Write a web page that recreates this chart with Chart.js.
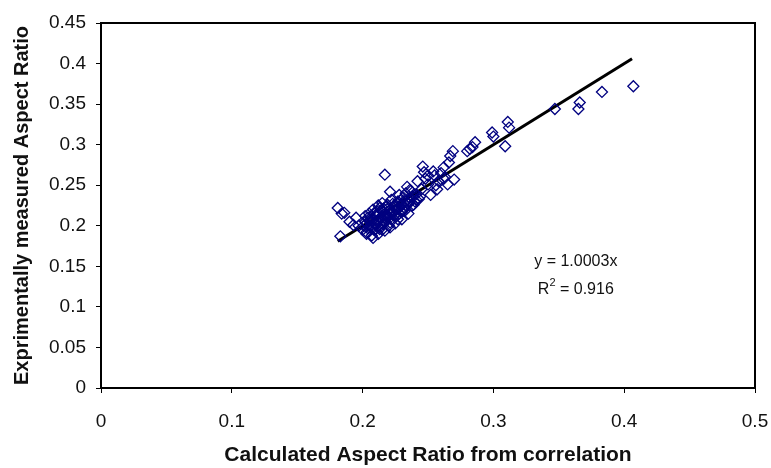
<!DOCTYPE html>
<html>
<head>
<meta charset="utf-8">
<script src="https://cdn.jsdelivr.net/npm/chart.js@4/dist/chart.umd.min.js"></script>
<style>
html,body{margin:0;padding:0;background:#fff;}
#wrap{width:771px;height:468px;}
</style>
</head>
<body>
<div id="wrap"><canvas id="c" width="771" height="468"></canvas></div>
<script>
// Calculated aspect ratio (x) and measured aspect ratio (y)
const calcX = [
  0.181,0.184,0.183,0.186,0.190,0.193,0.195,0.197,0.217,0.221,0.221,0.208,
  0.200,0.201,0.202,0.203,0.204,0.205,0.205,0.206,0.207,0.208,0.208,0.209,
  0.210,0.210,0.211,0.212,0.212,0.213,0.214,0.215,0.215,0.216,0.217,0.218,
  0.219,0.220,0.220,0.221,0.222,0.223,0.224,0.225,0.226,0.227,0.228,0.229,
  0.230,0.231,0.232,0.233,0.234,0.235,0.236,0.237,0.238,0.239,0.240,0.234,
  0.239,0.244,0.242,0.246,0.247,0.250,0.252,0.254,0.257,0.262,0.265,0.266,
  0.267,0.269,0.270,0.245,0.248,0.255,0.258,0.260,0.263,0.280,0.282,0.284,
  0.286,0.299,0.300,0.309,0.311,0.312,0.347,0.365,0.366,0.383,0.407,0.241,
  0.236,0.228,0.232,0.215,0.203,0.210,0.226,0.250,0.256,0.262,
  0.202,0.204,0.206,0.207,0.209,0.211,0.213,0.214,0.216,0.218,0.219,0.221,
  0.223,0.225,0.227,0.229,0.231,0.233,0.205,0.212,0.217,0.222,0.228,0.235,
  0.203,0.206,0.209,0.211,0.214,0.216,0.219,0.222,0.224,0.227,0.230,0.233,
  0.236,0.238,0.241,0.243,0.212,0.218,0.224,0.230
];
const measY = [
  0.222,0.215,0.187,0.216,0.205,0.201,0.210,0.200,0.263,0.242,0.198,0.185,
  0.195,0.200,0.205,0.192,0.210,0.198,0.215,0.203,0.188,0.220,0.208,0.195,
  0.213,0.202,0.218,0.190,0.207,0.222,0.200,0.212,0.195,0.217,0.205,0.223,
  0.210,0.200,0.215,0.220,0.208,0.227,0.213,0.203,0.220,0.230,0.215,0.225,
  0.208,0.235,0.222,0.240,0.228,0.215,0.235,0.243,0.225,0.238,0.230,0.248,
  0.226,0.236,0.255,0.273,0.266,0.251,0.238,0.267,0.245,0.272,0.251,0.278,
  0.286,0.292,0.257,0.245,0.258,0.262,0.255,0.265,0.260,0.292,0.295,0.297,
  0.303,0.315,0.310,0.298,0.328,0.321,0.344,0.344,0.352,0.365,0.372,0.232,
  0.244,0.238,0.218,0.228,0.190,0.196,0.212,0.262,0.250,0.258,
  0.212,0.197,0.210,0.198,0.216,0.206,0.196,0.219,0.202,0.214,0.226,0.204,
  0.217,0.226,0.208,0.231,0.219,0.230,0.206,0.225,0.194,0.232,0.222,0.227,
  0.203,0.207,0.202,0.213,0.209,0.221,0.212,0.216,0.224,0.221,0.227,0.225,
  0.230,0.236,0.239,0.233,0.200,0.209,0.219,0.217
];
// Linear trend line y = 1.0003x, drawn between its end points
const trendX = [0.181, 0.406];
const trendY = [0.181, 0.406];
const xTicks = [0, 0.1, 0.2, 0.3, 0.4, 0.5];
const yTicks = [0, 0.05, 0.1, 0.15, 0.2, 0.25, 0.3, 0.35, 0.4, 0.45];
const eqLine1 = 'y = 1.0003x';
const eqR2 = '0.916';

const pts = calcX.map((x, i) => ({x: x, y: measY[i]}));
const trend = trendX.map((x, i) => ({x: x, y: trendY[i]}));

const FONT = "'Liberation Sans', Arial, sans-serif";

const boxPlugin = {
  id: 'box',
  afterDraw(chart) {
    const {ctx, chartArea: a, scales} = chart;
    ctx.save();
    ctx.strokeStyle = '#000';
    ctx.lineWidth = 2;
    ctx.strokeRect(a.left, a.top, a.right - a.left, a.bottom - a.top);
    // equation text
    ctx.fillStyle = '#111';
    ctx.font = '16px ' + FONT;
    ctx.textBaseline = 'middle';
    const cx = scales.x.getPixelForValue(0.363);
    const y1 = scales.y.getPixelForValue(0.156);
    const y2 = scales.y.getPixelForValue(0.121);
    ctx.textAlign = 'center';
    ctx.fillText(eqLine1, cx, y1);
    // R² line with superscript
    const part1 = 'R', part3 = ' = ' + eqR2;
    const w1 = ctx.measureText(part1).width;
    const w3 = ctx.measureText(part3).width;
    ctx.font = '11px ' + FONT;
    const w2 = ctx.measureText('2').width;
    const total = w1 + w2 + w3;
    let sx = cx - total / 2;
    ctx.textAlign = 'left';
    ctx.font = '16px ' + FONT;
    ctx.fillText(part1, sx, y2);
    ctx.font = '11px ' + FONT;
    ctx.fillText('2', sx + w1, y2 - 7);
    ctx.font = '16px ' + FONT;
    ctx.fillText(part3, sx + w1 + w2, y2);
    ctx.restore();
  }
};

new Chart(document.getElementById('c'), {
  type: 'scatter',
  data: {
    datasets: [
      {
        label: 'Data',
        data: pts,
        pointStyle: 'rectRot',
        pointRadius: 5.5,
        pointBorderWidth: 1.3,
        pointBorderColor: '#000080',
        pointBackgroundColor: 'rgba(255,255,255,0)',
        showLine: false
      },
      {
        label: 'Linear',
        data: trend,
        showLine: true,
        borderColor: '#000',
        borderWidth: 3,
        pointRadius: 0,
        fill: false
      }
    ]
  },
  options: {
    responsive: false,
    animation: false,
    events: [],
    layout: {padding: {left: 0, right: 0, top: 23, bottom: 0}},
    plugins: {legend: {display: false}, tooltip: {enabled: false}},
    scales: {
      x: {
        type: 'linear',
        min: 0, max: 0.5,
        afterBuildTicks: (s) => { s.ticks = xTicks.map(v => ({value: v})); },
        afterFit: (s) => { s.height = 80; s.paddingRight = 16; s.paddingLeft = 0; },
        ticks: {color: '#111', font: {family: FONT, size: 19}, padding: 17,
                callback: (v) => String(v)},
        grid: {drawOnChartArea: false, drawTicks: true, tickLength: 5, color: '#000', lineWidth: 1},
        border: {display: true, color: '#000', width: 2},
        title: {display: true, text: 'Calculated Aspect Ratio from correlation',
                color: '#111', font: {family: FONT, size: 21, weight: 'bold'},
                padding: {top: 6, bottom: 0}}
      },
      y: {
        type: 'linear',
        min: 0, max: 0.45,
        afterBuildTicks: (s) => { s.ticks = yTicks.map(v => ({value: v})); },
        afterFit: (s) => { s.width = 101; },
        ticks: {color: '#111', font: {family: FONT, size: 19}, padding: 10,
                callback: (v) => String(v)},
        grid: {drawOnChartArea: false, drawTicks: true, tickLength: 5, color: '#000', lineWidth: 1},
        border: {display: true, color: '#000', width: 2},
        title: {display: true, text: 'Exprimentally measured Aspect Ratio',
                color: '#111', font: {family: FONT, size: 20, weight: 'bold'},
                padding: {top: 10, bottom: 4}}
      }
    }
  },
  plugins: [boxPlugin]
});
</script>
</body>
</html>
